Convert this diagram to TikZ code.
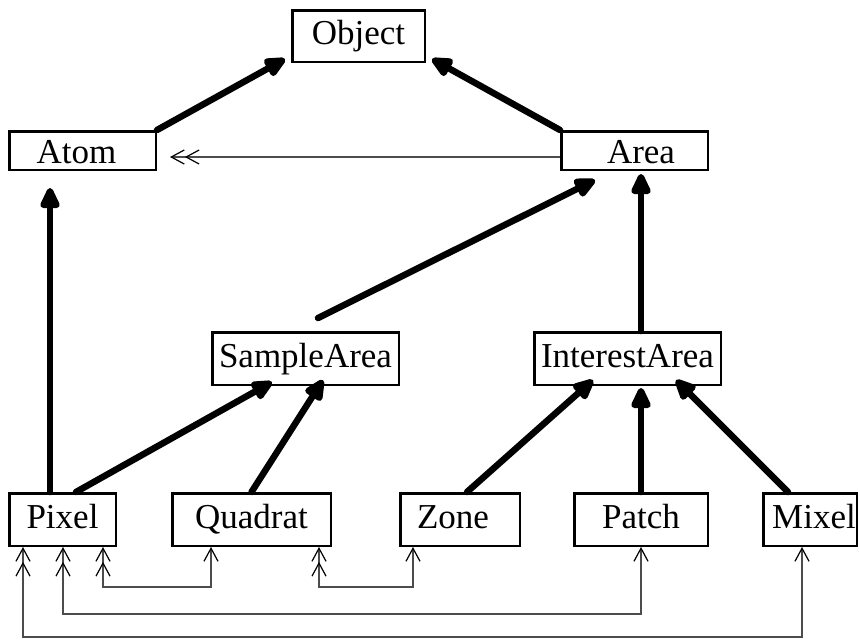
\documentclass[tikz,border=0pt]{standalone}
\usepackage{fontspec}
\setmainfont{Liberation Serif}
\usetikzlibrary{arrows.meta,calc}
\tikzset{
  box/.style={draw, line width=2.5pt, inner sep=0pt, minimum height=52.5pt,
    text height=24pt, text depth=7pt, font=\fontsize{35}{42}\selectfont},
  isa/.style={line width=6.5pt, line cap=round, -{Triangle[length=25pt,width=21pt,round]}},
  conn/.style={line width=1.2pt, draw=black!70},
  barb/.tip={Straight Barb[length=13pt,width=14pt,line width=1.2pt,color=black]},
  twoone/.style={arrows={{barb[]barb[]}-{barb[]}}},
  twoend/.style={arrows={-{barb[]barb[]}}}
}
\begin{document}
\begin{tikzpicture}[x=1pt,y=-1pt]
\useasboundingbox (0,0) rectangle (860,641);
% boxes
\node[box, minimum width=132.5pt, minimum height=51.5pt] (object) at (358.5,36) {Object};
\node[box, minimum width=146.5pt, minimum height=38.5pt] (atom) at (82.5,150.5) {\raisebox{-4pt}{Atom}\kern12pt};
\node[box, minimum width=146.5pt, minimum height=38.5pt] (area) at (634.5,150.5) {\kern13pt\raisebox{-4pt}{Area}};
\node[box, minimum width=186.5pt] (sample) at (305.5,358.5) {SampleArea};
\node[box, minimum width=186.5pt] (interest) at (627.5,358.5) {InterestArea};
\node[box, minimum width=106.5pt] (pixel) at (62.5,519.5) {Pixel};
\node[box, minimum width=158.5pt] (quadrat) at (251.5,519.5) {Quadrat};
\node[box, minimum width=119.5pt] (zone) at (460,519.5) {Zone\kern14pt};
\node[box, minimum width=133.5pt] (patch) at (641,519.5) {Patch};
\node[box, minimum width=93.5pt] (mixel) at (810,519.5) {\kern8pt Mixel};
% is-a arrows
\draw[isa] (atom.north east) -- ($(object.south west)+(-6,-4)$);
\draw[isa] (area.north west) -- ($(object.south east)+(6,-4)$);
\draw[isa] ($(pixel.north)+(-12.5,0)$) -- ($(atom.south)+(-32.5,17)$);
\draw[isa] ($(sample.north)+(12.5,-13)$) -- ($(area.south)+(-39.5,9)$);
\draw[isa] ($(interest.north)+(13.5,0)$) -- ($(area.south)+(6.5,3)$);
\draw[isa] ($(pixel.north)+(13.5,0)$) -- ($(sample.south)+(-33.5,-4)$);
\draw[isa] (quadrat.north) -- ($(sample.south)+(17.5,-6)$);
\draw[isa] ($(zone.north)+(7,0)$) -- ($(interest.south)+(-34.5,-6)$);
\draw[isa] (patch.north) -- ($(interest.south)+(13.5,2)$);
\draw[isa] ($(mixel.north)+(-22,0)$) -- ($(interest.south)+(48.5,-6)$);
% thin connectors
\draw[conn, twoend] ($(area.west)+(0,6.5)$) -- ($(atom.east)+(13,6.5)$);
\draw[conn, twoone] ($(pixel.south)+(40.5,0)$) |- ($(quadrat.south)+(-40.5,40)$) -- ($(quadrat.south)+(-40.5,0)$);
\draw[conn, twoone] ($(quadrat.south)+(67.5,0)$) |- ($(zone.south)+(-47,40)$) -- ($(zone.south)+(-47,0)$);
\draw[conn, twoone] ($(pixel.south)+(0.5,0)$) |- ($(patch.south)+(0,67)$) -- (patch.south);
\draw[conn, twoone] ($(pixel.south)+(-39.5,0)$) |- ($(mixel.south)+(-8,90)$) -- ($(mixel.south)+(-8,0)$);
\end{tikzpicture}
\end{document}
